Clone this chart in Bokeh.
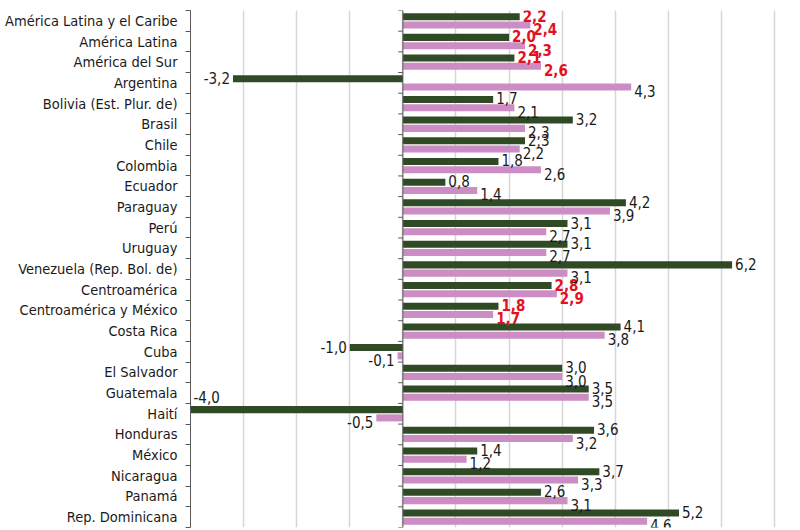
from bokeh.plotting import figure
from bokeh.models import ColumnDataSource, Range1d, FixedTicker, Span
from bokeh.embed import file_html
from bokeh.resources import INLINE
from bokeh.core.properties import value

paises = [
    "América Latina y el Caribe", "América Latina", "América del Sur", "Argentina",
    "Bolivia (Est. Plur. de)", "Brasil", "Chile", "Colombia", "Ecuador", "Paraguay",
    "Perú", "Uruguay", "Venezuela (Rep. Bol. de)", "Centroamérica",
    "Centroamérica y México", "Costa Rica", "Cuba", "El Salvador", "Guatemala",
    "Haití", "Honduras", "México", "Nicaragua", "Panamá", "Rep. Dominicana",
]
serie_verde = [2.2, 2.0, 2.1, -3.2, 1.7, 3.2, 2.3, 1.8, 0.8, 4.2, 3.1, 3.1, 6.2, 2.8,
               1.8, 4.1, -1.0, 3.0, 3.5, -4.0, 3.6, 1.4, 3.7, 2.6, 5.2]
serie_rosa = [2.4, 2.3, 2.6, 4.3, 2.1, 2.3, 2.2, 2.6, 1.4, 3.9, 2.7, 2.7, 3.1, 2.9,
              1.7, 3.8, -0.1, 3.0, 3.5, -0.5, 3.2, 1.2, 3.3, 3.1, 4.6]
agregado = [True, True, True, False, False, False, False, False, False, False,
            False, False, False, True, True, False, False, False, False, False,
            False, False, False, False, False]

VERDE = "#2f4a25"
ROSA = "#cc8cc4"
ROJO = "#e3101e"
EJE = "#5a5a5a"
FONT = "'DejaVu Sans Condensed', 'DejaVu Sans', sans-serif"
X0, X1 = -4, 7.3

n = len(paises)
pos = [n - 1 - i for i in range(n)]
bordes = [k - 0.5 for k in range(n + 1)]

p = figure(width=800, height=530, x_range=Range1d(X0, X1), y_range=Range1d(-0.5, n - 0.5),
           output_backend="svg", toolbar_location=None,
           min_border_left=190, min_border_right=10, min_border_top=10, min_border_bottom=3)
p.outline_line_color = None
p.background_fill_color = "white"
p.border_fill_color = "white"

p.xaxis.visible = False
p.xgrid.ticker = FixedTicker(ticks=list(range(-3, 8)))
p.xgrid.grid_line_color = "#d6d6d6"
p.xgrid.grid_line_width = 1.5
p.ygrid.visible = False

ya = p.yaxis[0]
ya.ticker = FixedTicker(ticks=pos, minor_ticks=bordes)
ya.major_label_overrides = {pos[i]: paises[i] for i in range(n)}
ya.major_tick_out = 0
ya.major_tick_in = 0
ya.minor_tick_out = 5
ya.minor_tick_in = 0
ya.minor_tick_line_color = EJE
ya.axis_line_color = EJE
ya.major_label_standoff = 8
ya.major_label_text_font = FONT
ya.major_label_text_font_size = "14.5px"
ya.major_label_text_color = "#1a1a1a"

DY = 0.2
H = 0.34
y_verde = [y + DY for y in pos]
y_rosa = [y - DY for y in pos]
p.hbar(y=y_verde, left=0, right=serie_verde, height=H, fill_color=VERDE, line_color=None)
p.hbar(y=y_rosa, left=0, right=serie_rosa, height=H, fill_color=ROSA, line_color=None)

p.add_layout(Span(location=0, dimension="height", line_color=EJE, line_width=1))
p.segment(x0=[0] * len(bordes), x1=[-0.09] * len(bordes), y0=bordes, y1=bordes,
          line_color=EJE, line_width=1)


def etiquetas(vals, ys, dy_txt):
    d = dict(x=[], y=[], text=[], align=[], xoff=[], yoff=[], color=[], style=[])
    for v, y, ag in zip(vals, ys, agregado):
        d["x"].append(v)
        d["y"].append(y)
        d["text"].append(f"{v:.1f}".replace(".", ","))
        if v >= 0:
            d["align"].append("left"); d["xoff"].append(3); d["yoff"].append(dy_txt)
        elif v - X0 < 0.6:
            d["align"].append("left"); d["xoff"].append(3); d["yoff"].append(-13)
        else:
            d["align"].append("right"); d["xoff"].append(-3); d["yoff"].append(dy_txt)
        d["color"].append(ROJO if ag else "#1a1a1a")
        d["style"].append("bold" if ag else "normal")
    return ColumnDataSource(d)


for src in (etiquetas(serie_verde, y_verde, -1), etiquetas(serie_rosa, y_rosa, 4)):
    p.text(x="x", y="y", text="text", source=src, text_align="align", x_offset="xoff",
           y_offset="yoff", text_color="color", text_font_style="style",
           text_baseline="middle", text_font=value(FONT), text_font_size="15px")

open("out.html", "w").write(file_html(p, INLINE))
